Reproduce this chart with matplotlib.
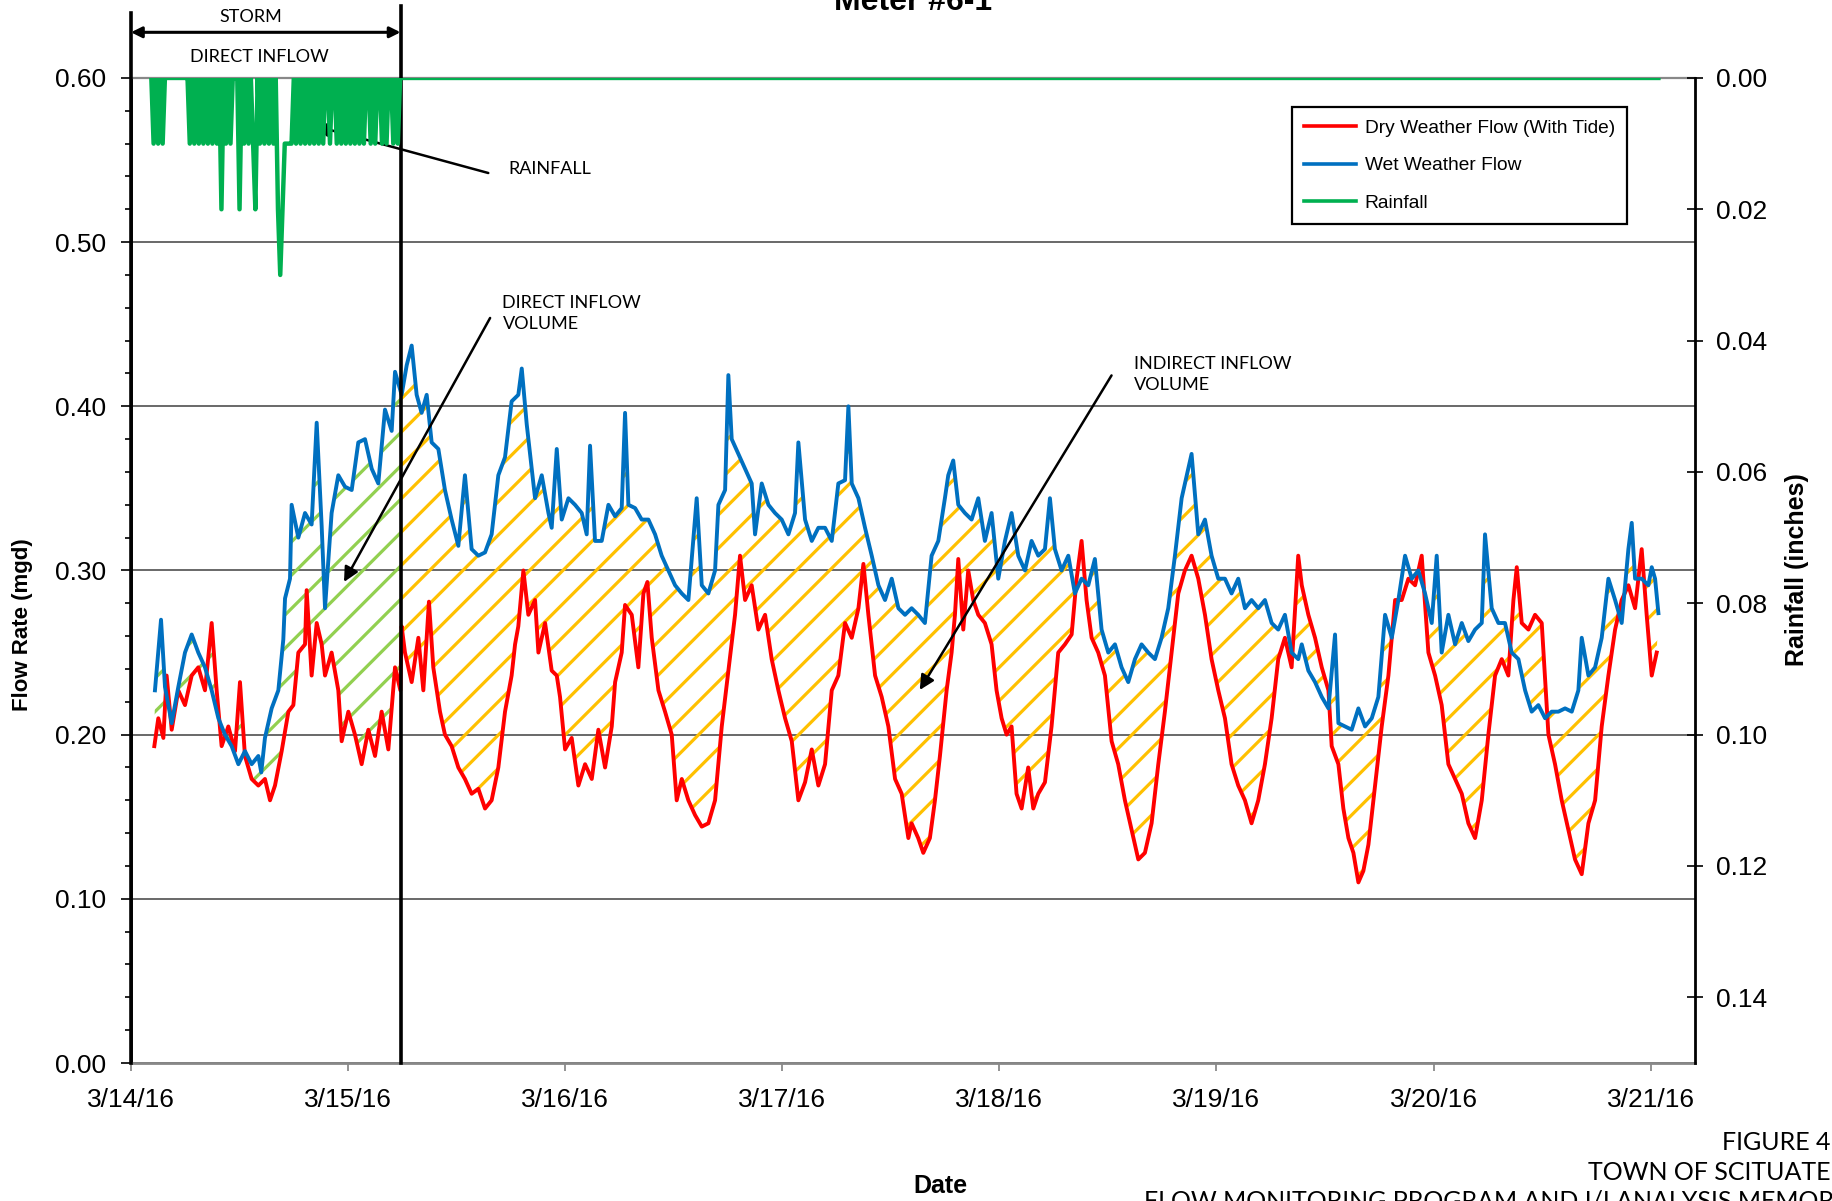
import numpy as np
import matplotlib.pyplot as plt
from matplotlib.patches import Polygon, Rectangle
from matplotlib.lines import Line2D

plt.rcParams['font.family'] = 'Liberation Sans'
plt.rcParams['hatch.linewidth'] = 2.3

# hours after 3/14/16 00:00, flow in mgd
wet_hours = [2.65, 3.32, 3.76, 4.50, 5.23, 5.97, 6.71, 7.44, 8.18, 8.92, 9.66, 10.39, 11.13, 11.87,
             12.60, 13.34, 14.08, 14.40, 14.81, 15.55, 16.29, 16.84, 17.03, 17.58, 17.76, 18.50,
             19.24, 19.97, 20.53, 21.08, 21.45, 22.18, 22.92, 23.66, 24.40, 25.13, 25.87, 26.61,
             27.34, 28.08, 28.82, 29.19, 29.92, 30.48, 31.03, 31.58, 32.13, 32.69, 33.24, 33.98,
             34.71, 35.45, 36.19, 36.92, 37.66, 38.40, 39.14, 39.87, 40.61, 41.35, 42.08, 42.82,
             43.20, 43.75, 44.30, 44.67, 45.41, 46.15, 46.51, 47.07, 47.62, 48.36, 49.09, 49.83,
             50.38, 50.75, 51.30, 52.04, 52.78, 53.52, 54.25, 54.62, 54.99, 55.73, 56.46, 57.20,
             57.94, 58.67, 59.41, 60.15, 60.89, 61.62, 62.54, 63.10, 63.83, 64.57, 64.94, 65.68,
             66.04, 66.41, 67.15, 67.89, 68.62, 68.99, 69.73, 70.47, 71.20, 71.94, 72.68, 73.41,
             73.78, 74.52, 75.26, 75.99, 76.73, 77.47, 78.20, 78.94, 79.31, 79.68, 80.42, 81.15,
             81.89, 82.63, 83.36, 84.10, 84.84, 85.57, 86.30, 87.03, 87.77, 88.51, 89.25, 89.98,
             90.35, 90.90, 91.46, 92.19, 92.93, 93.67, 94.40, 95.14, 95.88, 96.62, 97.35, 98.09,
             98.83, 99.56, 100.30, 101.04, 101.59, 102.14, 102.88, 103.62, 104.35, 105.09, 105.83,
             106.56, 107.30, 108.04, 108.78, 109.51, 110.25, 110.99, 111.72, 112.46, 113.20,
             113.93, 114.67, 115.41, 116.15, 116.88, 117.25, 117.99, 118.73, 119.46, 120.20,
             120.94, 121.67, 122.41, 123.15, 123.88, 124.62, 125.36, 126.10, 126.83, 127.57,
             128.31, 129.04, 129.43, 130.16, 130.90, 131.64, 132.38, 133.11, 133.48, 134.22,
             134.95, 135.69, 136.43, 137.17, 137.90, 138.64, 139.38, 140.11, 140.85, 141.59,
             142.32, 143.06, 143.80, 144.35, 144.90, 145.64, 146.38, 147.12, 147.85, 148.59,
             149.33, 149.69, 150.43, 151.17, 151.90, 152.64, 153.38, 154.12, 154.85, 155.59,
             156.33, 157.06, 157.80, 158.54, 159.28, 160.01, 160.38, 161.12, 161.86, 162.59,
             163.33, 164.07, 164.80, 165.54, 165.91, 166.28, 167.01, 167.75, 168.12, 168.49, 168.86]
wet_flow = [0.227, 0.270, 0.229, 0.207, 0.229, 0.250, 0.261, 0.250, 0.241, 0.227, 0.210, 0.200, 0.193, 0.182,
            0.190, 0.182, 0.187, 0.177, 0.198, 0.216, 0.227, 0.258, 0.283, 0.295, 0.340, 0.320,
            0.335, 0.328, 0.390, 0.327, 0.277, 0.335, 0.358, 0.351, 0.349, 0.378, 0.380, 0.362,
            0.353, 0.398, 0.385, 0.421, 0.407, 0.425, 0.437, 0.407, 0.396, 0.407, 0.378, 0.374,
            0.349, 0.331, 0.315, 0.358, 0.313, 0.309, 0.311, 0.322, 0.358, 0.369, 0.403, 0.407,
            0.423, 0.389, 0.362, 0.344, 0.358, 0.335, 0.326, 0.374, 0.331, 0.344, 0.340, 0.335,
            0.322, 0.376, 0.318, 0.318, 0.340, 0.333, 0.338, 0.396, 0.340, 0.338, 0.331, 0.331,
            0.322, 0.309, 0.300, 0.291, 0.286, 0.282, 0.344, 0.291, 0.286, 0.300, 0.340, 0.349,
            0.419, 0.380, 0.371, 0.362, 0.353, 0.322, 0.353, 0.340, 0.335, 0.331, 0.322, 0.335,
            0.378, 0.331, 0.318, 0.326, 0.326, 0.318, 0.353, 0.355, 0.400, 0.353, 0.344, 0.326,
            0.309, 0.291, 0.282, 0.295, 0.277, 0.273, 0.277, 0.273, 0.268, 0.309, 0.318, 0.344,
            0.358, 0.367, 0.340, 0.335, 0.331, 0.344, 0.318, 0.335, 0.295, 0.318, 0.335, 0.309,
            0.300, 0.318, 0.309, 0.313, 0.344, 0.313, 0.300, 0.309, 0.286, 0.295, 0.291,
            0.307, 0.264, 0.250, 0.255, 0.241, 0.232, 0.246, 0.255, 0.250, 0.246,
            0.259, 0.277, 0.309, 0.344, 0.362, 0.371, 0.322, 0.331, 0.309, 0.295,
            0.295, 0.286, 0.295, 0.277, 0.282, 0.277, 0.282, 0.268, 0.264, 0.273,
            0.250, 0.246, 0.255, 0.239, 0.232, 0.223, 0.216, 0.261, 0.207, 0.205,
            0.203, 0.216, 0.205, 0.210, 0.223, 0.273, 0.259, 0.282, 0.309, 0.295,
            0.300, 0.286, 0.268, 0.309, 0.250, 0.273, 0.255, 0.268, 0.257, 0.264,
            0.268, 0.322, 0.277, 0.268, 0.268, 0.250, 0.246, 0.227, 0.214, 0.218,
            0.210, 0.214, 0.214, 0.216, 0.214, 0.227, 0.259, 0.236, 0.241, 0.259,
            0.295, 0.282, 0.268, 0.313, 0.329, 0.295, 0.295, 0.291, 0.302, 0.295, 0.274]

dry_hours = [2.58, 3.02, 3.58, 3.94, 4.50, 5.23, 5.97, 6.71, 7.44, 8.18, 8.92, 9.47, 10.02, 10.76,
             11.50, 12.05, 12.60, 13.34, 14.08, 14.81, 15.37, 15.92, 16.66, 17.40, 17.95, 18.50,
             19.24, 19.42, 19.97, 20.53, 21.08, 21.45, 22.18, 22.92, 23.29, 24.03, 24.76, 25.50,
             26.24, 26.98, 27.71, 28.45, 29.19, 29.78, 29.92, 30.29, 31.03, 31.77, 32.32, 32.94,
             33.42, 34.16, 34.71, 35.45, 36.19, 36.92, 37.66, 38.40, 39.14, 39.87, 40.61, 41.35,
             42.08, 42.46, 42.82, 43.38, 43.93, 44.67, 45.04, 45.78, 46.51, 47.07, 47.43, 47.99,
             48.72, 49.46, 50.20, 50.94, 51.67, 52.41, 53.15, 53.52, 54.25, 54.62, 55.36, 56.09,
             56.65, 57.09, 57.57, 58.31, 59.04, 59.78, 60.33, 60.89, 61.62, 62.36, 63.10, 63.83,
             64.57, 65.31, 66.04, 66.78, 67.33, 67.89, 68.62, 69.36, 70.10, 70.83, 71.57, 72.31,
             73.05, 73.78, 74.52, 75.26, 75.99, 76.73, 77.47, 78.20, 78.94, 79.68, 80.42, 80.97,
             81.52, 82.26, 82.99, 83.73, 84.47, 85.20, 85.94, 86.30, 87.03, 87.59, 88.32, 88.88,
             89.43, 90.17, 90.72, 91.09, 91.46, 92.01, 92.56, 93.11, 93.67, 94.40, 95.14, 95.69,
             96.25, 96.80, 97.35, 97.90, 98.46, 99.19, 99.75, 100.30, 101.04, 101.77, 102.51,
             103.25, 103.99, 104.54, 105.09, 105.64, 106.20, 106.93, 107.67, 108.41, 109.14,
             109.88, 110.62, 111.36, 112.09, 112.83, 113.57, 114.30, 115.04, 115.78, 116.51,
             117.25, 117.99, 118.73, 119.46, 120.20, 120.94, 121.67, 122.41, 123.15, 123.88,
             124.62, 125.36, 126.10, 126.83, 127.57, 128.31, 129.04, 129.43, 130.16, 130.90,
             131.64, 132.38, 132.74, 133.48, 134.03, 134.59, 135.14, 135.69, 136.24, 136.80,
             137.53, 138.27, 139.01, 139.75, 140.48, 141.22, 141.96, 142.69, 143.43, 144.17,
             144.90, 145.64, 146.38, 147.12, 147.85, 148.59, 149.33, 150.06, 150.80, 151.54,
             152.27, 152.83, 153.20, 153.75, 154.49, 155.22, 155.96, 156.70, 157.43, 158.17,
             158.91, 159.64, 160.38, 161.12, 161.86, 162.59, 163.33, 164.07, 164.80, 165.54,
             166.28, 167.01, 167.56, 168.12, 168.67]
dry_flow = [0.193, 0.210, 0.198, 0.236, 0.203, 0.227, 0.218, 0.236, 0.241, 0.227, 0.268, 0.227, 0.193, 0.205,
            0.190, 0.232, 0.187, 0.173, 0.169, 0.173, 0.160, 0.169, 0.190, 0.214, 0.218, 0.250,
            0.255, 0.288, 0.236, 0.268, 0.255, 0.236, 0.250, 0.227, 0.196, 0.214, 0.200, 0.182,
            0.203, 0.187, 0.214, 0.191, 0.241, 0.227, 0.266, 0.250, 0.232, 0.259, 0.227, 0.281,
            0.241, 0.214, 0.200, 0.193, 0.180, 0.173, 0.164, 0.167, 0.155, 0.160, 0.180, 0.214,
            0.236, 0.255, 0.266, 0.300, 0.273, 0.282, 0.250, 0.268, 0.239, 0.236, 0.223, 0.191,
            0.198, 0.169, 0.182, 0.173, 0.203, 0.180, 0.205, 0.232, 0.250, 0.279, 0.273, 0.241,
            0.286, 0.293, 0.259, 0.227, 0.214, 0.200, 0.160, 0.173, 0.160, 0.151, 0.144, 0.146,
            0.160, 0.205, 0.239, 0.273, 0.309, 0.282, 0.291, 0.264, 0.273, 0.246, 0.227, 0.210,
            0.196, 0.160, 0.171, 0.191, 0.169, 0.182, 0.227, 0.236, 0.268, 0.259, 0.277, 0.304,
            0.273, 0.236, 0.223, 0.205, 0.173, 0.164, 0.137, 0.146, 0.137, 0.128, 0.137, 0.160,
            0.187, 0.227, 0.250, 0.273, 0.307, 0.264, 0.300, 0.282, 0.273, 0.268, 0.255, 0.227,
            0.210, 0.200, 0.205, 0.164, 0.155, 0.180, 0.155, 0.164, 0.171, 0.205, 0.250,
            0.255, 0.261, 0.295, 0.318, 0.282, 0.259, 0.250, 0.236, 0.196, 0.182,
            0.160, 0.142, 0.124, 0.128, 0.146, 0.182, 0.214, 0.250, 0.286, 0.300,
            0.309, 0.295, 0.273, 0.246, 0.227, 0.210, 0.182, 0.169, 0.160, 0.146,
            0.160, 0.182, 0.210, 0.246, 0.259, 0.241, 0.309, 0.291, 0.273, 0.259,
            0.241, 0.227, 0.193, 0.182, 0.155, 0.137, 0.128, 0.110, 0.117, 0.133,
            0.169, 0.205, 0.236, 0.282, 0.282, 0.295, 0.291, 0.309, 0.250, 0.236,
            0.218, 0.182, 0.173, 0.164, 0.146, 0.137, 0.160, 0.200, 0.236, 0.246,
            0.236, 0.282, 0.302, 0.268, 0.264, 0.273, 0.268, 0.200, 0.182, 0.160,
            0.142, 0.124, 0.115, 0.146, 0.160, 0.205, 0.236, 0.264, 0.282, 0.291,
            0.277, 0.313, 0.273, 0.236, 0.250]

# rainfall, 15-minute readings in hundredths of an inch, starting 3/14 02:15
rain_start = 2.25
rain_step = 0.25
rain_hundredths = [0, 1, 0, 1, 0, 1, 0, 0, 0, 0, 0, 0, 0, 0, 0, 0, 0,
                   1, 0, 1, 0, 1, 0, 1, 0, 1, 0, 1, 0, 1, 0, 2, 0, 1, 0, 1, 0, 0, 0,
                   2, 0, 1, 0, 1, 0, 1, 2, 0, 1, 0, 1, 0, 1, 0, 1, 0,
                   2, 3, 2, 1, 1, 1, 1,
                   0, 1, 0, 1, 0, 1, 0, 1, 0, 1, 0, 1, 0, 1, 0, 0, 1, 0, 0, 1, 0, 1,
                   0, 1, 0, 1, 0, 1, 0, 1, 0, 1, 0, 0, 1, 0, 1, 0, 0, 1, 0, 1, 0, 0,
                   1, 0, 1, 0]
rain_end = 168.86

storm_end = 29.8
x_ticks = [0, 24, 48, 72, 96, 120, 144, 168]
x_tick_labels = ['3/14/16', '3/15/16', '3/16/16', '3/17/16', '3/18/16', '3/19/16', '3/20/16', '3/21/16']

wet_hours = np.array(wet_hours)
wet_flow = np.array(wet_flow)
dry_hours = np.array(dry_hours)
dry_flow = np.array(dry_flow)
rain_h = np.append(rain_start + rain_step * np.arange(len(rain_hundredths)), rain_end)
rain_in = np.append(np.array(rain_hundredths) / 100.0, 0.0)

fig = plt.figure(figsize=(18.32, 12.01), dpi=100)
ax = fig.add_axes([0.0715, 0.1149, 0.8537, 0.8202])

# hatched areas between wet and dry weather flow
verts = np.column_stack([np.r_[wet_hours, dry_hours[::-1]], np.r_[wet_flow, dry_flow[::-1]]])
for x0, x1, col in [(0, storm_end, '#92D050'), (storm_end, 200, '#FFC000')]:
    poly = Polygon(verts, closed=True, facecolor='none', edgecolor=col, lw=0, hatch='/', zorder=1)
    ax.add_patch(poly)
    poly.set_clip_path(Rectangle((x0, 0), x1 - x0, 1, transform=ax.transData))

ax.plot(dry_hours, dry_flow, color='#FF0000', lw=2.8, zorder=3)
ax.plot(wet_hours, wet_flow, color='#0070C0', lw=2.8, zorder=3)

ax.set_xlim(0, 172.9)
ax.set_ylim(0, 0.6)
ax.set_xticks(x_ticks)
ax.set_xticklabels(x_tick_labels)
ax.set_yticks(np.arange(0, 0.61, 0.1))
ax.set_yticklabels(['%.2f' % v for v in np.arange(0, 0.61, 0.1)])
ax.yaxis.set_minor_locator(plt.MultipleLocator(0.02))
ax.tick_params(axis='x', direction='out', length=6, width=1.2, labelsize=19, pad=12, color='#808080')
ax.tick_params(axis='y', which='major', direction='out', length=7, width=1.2, labelsize=19, pad=11)
ax.tick_params(axis='y', which='minor', direction='out', length=4, width=1.2)
ax.yaxis.grid(True, color='#404040', lw=1.1)
ax.set_axisbelow(True)
ax.spines['left'].set_linewidth(2)
ax.spines['right'].set_visible(False)
ax.spines['top'].set_color('#888888')
ax.spines['top'].set_linewidth(1.6)
ax.spines['bottom'].set_color('#888888')
ax.spines['bottom'].set_linewidth(2)

# storm boundaries
ax.plot([0, 0], [0, 0.6398], color='black', lw=2.6, clip_on=False, zorder=5)
ax.plot([storm_end, storm_end], [0, 0.6439], color='black', lw=2.6, clip_on=False, zorder=5)
ax.annotate('', xy=(0, 0.6278), xytext=(storm_end, 0.6278), annotation_clip=False,
            arrowprops=dict(arrowstyle='<|-|>', color='black', lw=2.2, mutation_scale=16,
                            shrinkA=0, shrinkB=0))
ax.text(13.2, 0.6373, 'STORM', family='Lato', fontsize=13, ha='center', va='center', clip_on=False)
ax.text(14.15, 0.6126, 'DIRECT INFLOW', family='Lato', fontsize=13, ha='center', va='center')

ax2 = ax.twinx()
ax2.plot(rain_h, rain_in, color='#00B050', lw=3.2)
ax2.set_ylim(0.15, 0)
ax2.set_yticks(np.arange(0, 0.141, 0.02))
ax2.set_yticklabels(['%.2f' % v for v in np.arange(0, 0.141, 0.02)])
ax2.tick_params(axis='y', direction='inout', length=12, width=1.2, labelsize=19, pad=9)
for s in ['left', 'bottom', 'top']:
    ax2.spines[s].set_visible(False)
ax2.spines['right'].set_linewidth(2)

arrow = dict(arrowstyle='-|>', color='black', lw=1.8, mutation_scale=22, shrinkA=0, shrinkB=0)
ax.annotate('', xy=(20.3, 0.5709), xytext=(39.5, 0.5421), arrowprops=arrow, zorder=6)
ax.text(41.7, 0.5446, 'RAINFALL', family='Lato', fontsize=13, ha='left', va='center')
ax.annotate('', xy=(23.55, 0.2930), xytext=(39.7, 0.4538), arrowprops=arrow, zorder=6)
ax.text(41.07, 0.4565, 'DIRECT INFLOW\nVOLUME', family='Lato', fontsize=13, ha='left',
        va='center', linespacing=1.45)
ax.annotate('', xy=(87.2, 0.2272), xytext=(108.4, 0.4188), arrowprops=arrow, zorder=6)
ax.text(110.9, 0.4194, 'INDIRECT INFLOW\nVOLUME', family='Lato', fontsize=13, ha='left',
        va='center', linespacing=1.45)

handles = [Line2D([], [], color='#FF0000', lw=2.6),
           Line2D([], [], color='#0070C0', lw=2.6),
           Line2D([], [], color='#00B050', lw=2.6)]
leg = ax2.legend(handles, ['Dry Weather Flow (With Tide)', 'Wet Weather Flow', 'Rainfall'],
                 loc='upper left', bbox_to_anchor=(0.7052, 0.9109), bbox_transform=fig.transFigure,
                 fontsize=13.8, frameon=True, fancybox=False, edgecolor='black', framealpha=1,
                 borderpad=0.65, handlelength=2.7, handletextpad=0.45, labelspacing=1.05,
                 borderaxespad=0)
leg.get_frame().set_linewidth(1.6)

fig.text(913 / 1832, 1 - 9.5 / 1201, 'Meter #6-1', ha='center', va='baseline', fontsize=23,
         fontweight='bold')
fig.text(23 / 1832, 1 - 625 / 1201, 'Flow Rate (mgd)', rotation=90, ha='center', va='center',
         fontsize=16, fontweight='bold')
fig.text(1797 / 1832, 1 - 570 / 1201, 'Rainfall (inches)', rotation=90, ha='center', va='center',
         fontsize=18, fontweight='bold')
fig.text(940 / 1832, 1 - 1186 / 1201, 'Date', ha='center', va='center', fontsize=18,
         fontweight='bold')

fig.text(1831 / 1832, 1 - 1143 / 1201, 'FIGURE 4', ha='right', va='center', family='Lato',
         fontsize=18)
fig.text(1831 / 1832, 1 - 1172 / 1201, 'TOWN OF SCITUATE', ha='right', va='center',
         family='Lato', fontsize=18)
fig.text(1144 / 1832, 1 - 1201 / 1201, 'FLOW MONITORING PROGRAM AND I/I ANALYSIS MEMORANDUM',
         ha='left', va='center', family='Lato', fontsize=18)

fig.savefig('out.png', dpi=100)
